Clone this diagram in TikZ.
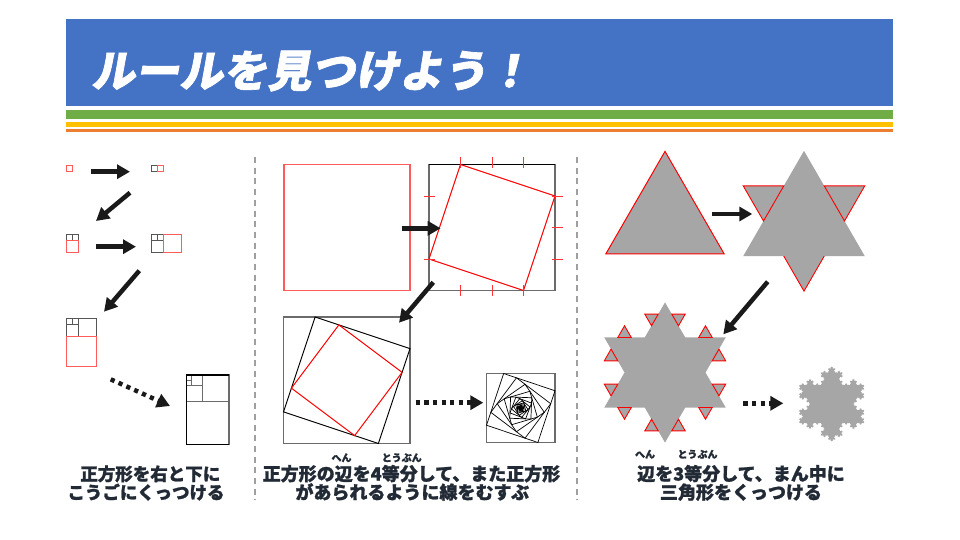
\documentclass[tikz,border=0pt]{standalone}
\usepackage{fontspec}
\usetikzlibrary{arrows.meta,calc,lindenmayersystems}
\newfontfamily\jp{Noto Sans CJK JP}[FakeBold=1.3]
\newfontfamily\jptitle{Noto Sans CJK JP}[FakeSlant=0.18, FakeBold=1.5]
\definecolor{tblue}{HTML}{4472C4}
\definecolor{tgreen}{HTML}{70AD47}
\definecolor{tyellow}{HTML}{FFC000}
\definecolor{torange}{HTML}{ED7D31}
\definecolor{kgray}{HTML}{A6A6A6}
\definecolor{lred}{HTML}{FF5B5B}
\definecolor{dgray}{HTML}{6B6B6B}
\definecolor{txt}{HTML}{222A35}
\definecolor{arr}{HTML}{1A1A1A}
\pgfdeclarelindenmayersystem{Koch}{\rule{F -> F-F++F-F}}
\tikzset{
  bigarrow/.style={line width=4.5pt, draw=arr, -{Triangle[length=13pt,width=14pt]}},
  dotarrow/.style={bigarrow, dash pattern=on 4.2pt off 4.4pt},
  sepline/.style={draw=gray!75, line width=1.2pt, dash pattern=on 6pt off 4.7pt},
  fibk/.style={draw=dgray!80!black, line width=1pt},
  fibr/.style={draw=lred, line width=1pt},
  jptext/.style={text=txt, inner sep=0pt, anchor=base, font=\jp\bfseries\fontsize{18}{18}\selectfont},
  rubytext/.style={text=txt, inner sep=0pt, anchor=base, font=\jp\bfseries\fontsize{10}{10}\selectfont},
  kochtri/.style={fill=kgray, draw=red, line width=0.9pt, line join=miter},
}
\begin{document}
\begin{tikzpicture}[x=1pt, y=-1pt]
\useasboundingbox (0,0) rectangle (960,540);
\fill[white] (0,0) rectangle (960,540);

% ---------- title bar ----------
\fill[tblue] (66,19) rectangle (893,106);
\fill[tgreen] (66,110) rectangle (893,119);
\fill[tyellow] (66,122.5) rectangle (893,127);
\fill[torange] (66,129) rectangle (893,132.5);
\node[anchor=base west, text=white, inner sep=0pt,
      font=\jptitle\bfseries\fontsize{44}{44}\selectfont] (title) at (91,87) {ルールを見つけよう！};

% ---------- separators ----------
\coordinate (s1a) at (255,157); \coordinate (s1b) at (255,500);
\coordinate (s2a) at (577,157); \coordinate (s2b) at (577,500);
\draw[sepline] (s1a) -- (s1b);
\draw[sepline] (s2a) -- (s2b);

% ---------- left panel: Fibonacci squares ----------
\draw[fibr] (66,166) rectangle (72,172);
\draw[fibk] (151,166) rectangle (157,172);
\draw[fibr] (157,166) rectangle (163,172);

\draw[fibk] (66,234) rectangle (72,240) (72,234) rectangle (78,240);
\draw[fibr] (66,240) rectangle (78,252);

\draw[fibk] (151,234) rectangle (157,240) (157,234) rectangle (163,240) (151,240) rectangle (163,252);
\draw[fibr] (163,234) rectangle (181,252);

\draw[fibk] (66,318) rectangle (72,324) (72,318) rectangle (78,324) (66,324) rectangle (78,336) (78,318) rectangle (96,336);
\draw[fibr] (66,336) rectangle (96,366);

\begin{scope}[shift={(186.5,375)}, x=5.33pt, y=-5.33pt]
  \draw[dgray, line width=1.3pt] (0,5) rectangle (8,13) (3,0) rectangle (8,5) (0,2) rectangle (3,5)
        (1,0) rectangle (3,2) (0,0) rectangle (1,1) (0,1) rectangle (1,2);
  \draw[black, line width=1.3pt] (8,0) -- (0,0) -- (0,13) -- (8,13);
\end{scope}

\coordinate (a1s) at (91,171.7);   \coordinate (a1e) at (130,171.7);
\coordinate (a2s) at (130,192.7);  \coordinate (a2e) at (96,221);
\coordinate (a3s) at (96,246.7);   \coordinate (a3e) at (136,246.7);
\coordinate (a4s) at (139.3,270.7);\coordinate (a4e) at (104,311.7);
\coordinate (a5s) at (110.7,379.3);\coordinate (a5e) at (170,406);
\draw[bigarrow] (a1s) -- (a1e);
\draw[bigarrow] (a2s) -- (a2e);
\draw[bigarrow] (a3s) -- (a3e);
\draw[bigarrow] (a4s) -- (a4e);
\draw[dotarrow] (a5s) -- (a5e);

% ---------- middle panel: nested squares ----------
\draw[lred, line width=1.3pt] (284,164.5) rectangle (410,290.5);

\draw[dgray, line width=1.5pt] (429,164.5) rectangle (555,290.5);
\draw[black, line width=1.3pt] (429,164.5) -- (555,164.5);
\draw[red, line width=1pt] (460.5,164.5) -- (555,196) -- (523.5,290.5) -- (429,259) -- cycle;
\draw[red!80, line width=0.8pt]
  (460.5,157) -- (460.5,168) (492,157) -- (492,168) (523.5,157) -- (523.5,168)
  (552,196) -- (563,196) (552,227.5) -- (563,227.5) (552,259) -- (563,259)
  (424,196) -- (435,196) (424,227.5) -- (435,227.5) (424,259) -- (435,259)
  (460.5,285) -- (460.5,296) (492,285) -- (492,296) (523.5,285) -- (523.5,296);

\coordinate (m1) at (283.5,317); \coordinate (m2) at (410,317);
\coordinate (m3) at (410,443.5); \coordinate (m4) at (283.5,443.5);
\draw[dgray, line width=1.5pt] (m1) -- (m2) -- (m3) -- (m4) -- cycle;
\coordinate (n1) at ($(m1)!0.25!(m2)$); \coordinate (n2) at ($(m2)!0.25!(m3)$);
\coordinate (n3) at ($(m3)!0.25!(m4)$); \coordinate (n4) at ($(m4)!0.25!(m1)$);
\draw[black, line width=1pt] (n1) -- (n2) -- (n3) -- (n4) -- cycle;
\coordinate (o1) at ($(n1)!0.25!(n2)$); \coordinate (o2) at ($(n2)!0.25!(n3)$);
\coordinate (o3) at ($(n3)!0.25!(n4)$); \coordinate (o4) at ($(n4)!0.25!(n1)$);
\draw[red, line width=1pt] (o1) -- (o2) -- (o3) -- (o4) -- cycle;

\coordinate (p1) at (486.5,373.5); \coordinate (p2) at (555,373.5);
\coordinate (p3) at (555,442.5); \coordinate (p4) at (486.5,442.5);
\draw[dgray, line width=1.5pt] (p1) -- (p2) -- (p3) -- (p4) -- cycle;
\foreach \i in {1,...,26}{
  \coordinate (q1) at ($(p1)!0.25!(p2)$);
  \coordinate (q2) at ($(p2)!0.25!(p3)$);
  \coordinate (q3) at ($(p3)!0.25!(p4)$);
  \coordinate (q4) at ($(p4)!0.25!(p1)$);
  \draw[black, line width=0.7pt] (q1) -- (q2) -- (q3) -- (q4) -- cycle;
  \coordinate (p1) at (q1); \coordinate (p2) at (q2);
  \coordinate (p3) at (q3); \coordinate (p4) at (q4);
}

\coordinate (b1s) at (401.7,228.3); \coordinate (b1e) at (440.7,228.3);
\coordinate (b2s) at (433.3,282.3); \coordinate (b2e) at (399,322.7);
\coordinate (b3s) at (415.7,402.7); \coordinate (b3e) at (483.3,402.7);
\draw[bigarrow] (b1s) -- (b1e);
\draw[bigarrow] (b2s) -- (b2e);
\draw[dotarrow] (b3s) -- (b3e);

% ---------- right panel: Koch snowflake ----------
\begin{scope}[shift={(665,219.7)}, yscale=-1]
  \filldraw[fill=kgray, draw=red, line width=1pt] (90:68.3) -- (210:68.3) -- (330:68.3) -- cycle;
\end{scope}

\begin{scope}[shift={(804,221)}, yscale=-1]
  \pgfmathsetmacro\kR{121.5/sqrt(3)}
  \pgfmathsetmacro\kr{121.5/3}
  \fill[kgray] (90:\kR) -- (210:\kR) -- (330:\kR) -- cycle;
  \filldraw[kochtri] (150:\kR) -- (120:\kr) -- (180:\kr) -- cycle;
  \filldraw[kochtri] (30:\kR) -- (60:\kr) -- (0:\kr) -- cycle;
  \fill[kgray] (270:\kR) -- (240:\kr) -- (300:\kr) -- cycle;
  \draw[red, line width=0.9pt] (240:\kr) -- (270:\kR) -- (300:\kr);
\end{scope}

\begin{scope}[shift={(665,372.5)}, yscale=-1]
  \pgfmathsetmacro\kR{121.4/sqrt(3)}
  \pgfmathsetmacro\kr{121.4/3}
  \pgfmathsetmacro\kL{121.4/9}
  \fill[kgray] (0:\kr) -- (30:\kR) -- (60:\kr) -- (90:\kR) -- (120:\kr) -- (150:\kR) -- (180:\kr)
     -- (210:\kR) -- (240:\kr) -- (270:\kR) -- (300:\kr) -- (330:\kR) -- cycle;
  \foreach \k in {0,...,11}{
    \pgfmathsetmacro\krad{ifthenelse(mod(\k,2)==0,\kr,\kR)}
    \pgfmathsetmacro\kdir{ifthenelse(mod(\k,2)==0,60+30*\k,150+30*\k)}
    \filldraw[kochtri] (30*\k:\krad) ++(\kdir:\kL) -- ++(\kdir-60:\kL) -- ++(\kdir+60:\kL) -- cycle;
  }
\end{scope}

\begin{scope}[shift={(799.2,422.75)}]
  \fill[kgray] [l-system={Koch, axiom=F++F++F, order=4, step=0.8025pt, angle=60}] lindenmayer system -- cycle;
\end{scope}

\coordinate (c1s) at (712.3,214); \coordinate (c1e) at (752.3,214);
\coordinate (c2s) at (767.7,281.7); \coordinate (c2e) at (723.3,334.3);
\coordinate (c3s) at (743.3,403.3); \coordinate (c3e) at (783.3,403.3);
\draw[bigarrow] (c1s) -- (c1e);
\draw[bigarrow] (c2s) -- (c2e);
\draw[dotarrow] (c3s) -- (c3e);

% ---------- captions ----------
\node[jptext, font=\jp\bfseries\fontsize{17.5}{17.5}\selectfont] (tL1) at (150.3,480.5) {正方形を右と下に};
\node[jptext, font=\jp\bfseries\fontsize{17.5}{17.5}\selectfont] (tL2) at (146,499) {こうごにくっつける};

\node[rubytext] (rM1) at (341.5,461.5) {へん};
\node[rubytext] (rM2) at (401.7,461.5) {とうぶん};
\node[jptext] (tM1) at (411.5,480.5) {正方形の辺を4等分して、また正方形};
\node[jptext] (tM2) at (412.3,499) {があられるように線をむすぶ};

\node[rubytext] (rR1) at (645,458) {へん};
\node[rubytext] (rR2) at (697.5,458) {とうぶん};
\node[jptext] (tR1) at (741,480.5) {辺を3等分して、まん中に};
\node[jptext] (tR2) at (741,499) {三角形をくっつける};
\end{tikzpicture}
\end{document}
